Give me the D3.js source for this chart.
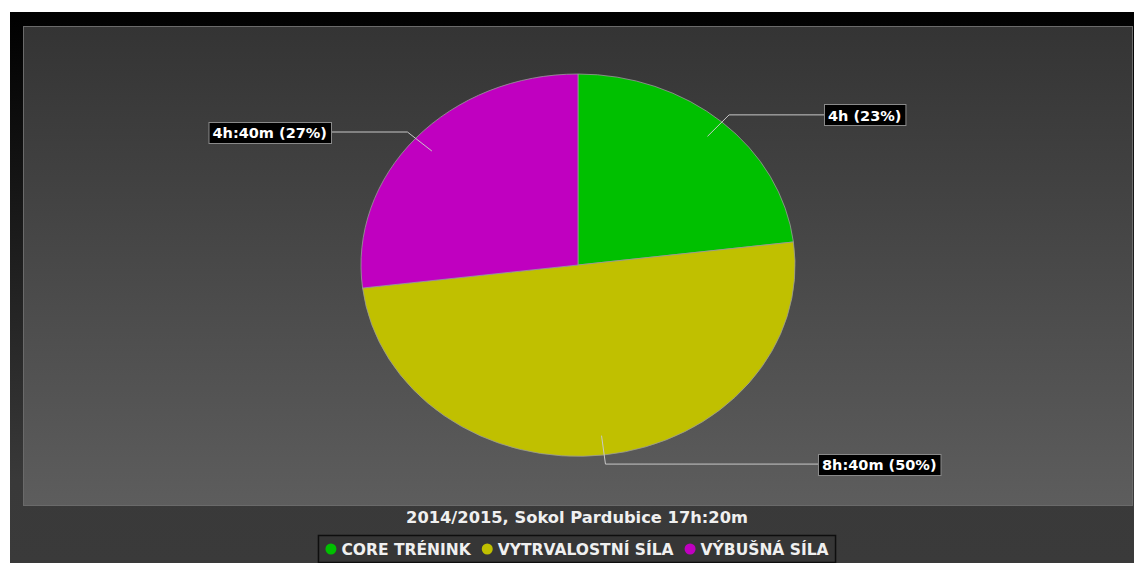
<!DOCTYPE html>
<html>
<head>
<meta charset="utf-8">
<script src="https://cdn.jsdelivr.net/npm/d3@7/dist/d3.min.js"></script>
<style>
  html, body { margin: 0; padding: 0; background: #ffffff; }
  svg { display: block; }
  text { font-family: "DejaVu Sans", Verdana, sans-serif; }
</style>
</head>
<body>
<svg id="chart" width="1134" height="563"></svg>
<script>
// Training time per category, in minutes
const categories = ["CORE TRÉNINK", "VYTRVALOSTNÍ SÍLA", "VÝBUŠNÁ SÍLA"];
const minutes = [240, 520, 280];
const sliceLabels = ["4h (23%)", "8h:40m (50%)", "4h:40m (27%)"];
const colors = ["#00c000", "#c0c000", "#c000c0"];
const title = "2014/2015, Sokol Pardubice 17h:20m";

const W = 1134, H = 563;
const svg = d3.select("#chart");
const defs = svg.append("defs");

// Outer panel gradient
const gOuter = defs.append("linearGradient").attr("id", "outerGrad")
  .attr("x1", 0).attr("y1", 0).attr("x2", 0).attr("y2", 1);
gOuter.append("stop").attr("offset", 0).attr("stop-color", "#000000");
gOuter.append("stop").attr("offset", 0.85).attr("stop-color", "#393939");
gOuter.append("stop").attr("offset", 1).attr("stop-color", "#3a3a3a");

// Plot area gradient
const gPlot = defs.append("linearGradient").attr("id", "plotGrad")
  .attr("x1", 0).attr("y1", 0).attr("x2", 0).attr("y2", 1);
gPlot.append("stop").attr("offset", 0).attr("stop-color", "#343434");
gPlot.append("stop").attr("offset", 1).attr("stop-color", "#5d5d5d");

svg.append("rect").attr("x", 10).attr("y", 12).attr("width", W - 10).attr("height", H - 12)
  .attr("fill", "url(#outerGrad)");

const plot = { x: 23, y: 26, w: 1109, h: 479 };
svg.append("rect")
  .attr("x", plot.x + 0.5).attr("y", plot.y + 0.5)
  .attr("width", plot.w).attr("height", plot.h)
  .attr("fill", "url(#plotGrad)")
  .attr("stroke", "#6a6a6a").attr("stroke-width", 1);

// Elliptical pie
const cx = 578, cy = 265, rx = 217, ry = 191;
const pie = d3.pie().sort(null).startAngle(0).endAngle(2 * Math.PI);
const arcs = pie(minutes);
const arc = d3.arc().innerRadius(0).outerRadius(ry);

const pieG = svg.append("g")
  .attr("transform", `translate(${cx},${cy}) scale(${rx / ry},1)`);
pieG.selectAll("path.slice")
  .data(arcs)
  .join("path")
  .attr("class", "slice")
  .attr("d", arc)
  .attr("fill", (d, i) => colors[i])
  .attr("stroke", "#9a9a9a")
  .attr("stroke-width", 0.8)
  .attr("vector-effect", "non-scaling-stroke");

// Point on the ellipse at angle a (clockwise from 12 o'clock), radius fraction f
function ellipsePt(a, f) {
  return [cx + rx * f * Math.sin(a), cy - ry * f * Math.cos(a)];
}

// Label column positions: right side boxes start at x, left side boxes end at x
const labelCols = [824, 818, 331];

const labelG = svg.append("g");
arcs.forEach((d, i) => {
  const mid = (d.startAngle + d.endAngle) / 2;
  const p0 = ellipsePt(mid, 0.9);
  const p1 = ellipsePt(mid, 1.05);
  const right = Math.sin(mid) >= 0;
  const t = labelG.append("text")
    .attr("font-size", 14.5)
    .attr("font-weight", "bold")
    .attr("fill", "#ffffff")
    .attr("dominant-baseline", "central")
    .text(sliceLabels[i]);
  const tw = t.node().getComputedTextLength();
  const padX = 4, bh = 21;
  const bw = tw + padX * 2;
  const bx = right ? labelCols[i] : labelCols[i] - bw;
  const endX = right ? bx : bx + bw;
  labelG.insert("polyline", "text")
    .attr("points", [p0, p1, [endX, p1[1]]].map(p => p.join(",")).join(" "))
    .attr("fill", "none")
    .attr("stroke", "#c8c8c8")
    .attr("stroke-width", 1);
  labelG.insert("rect", "text")
    .attr("x", bx + 0.5).attr("y", Math.round(p1[1] - bh / 2) + 0.5)
    .attr("width", bw).attr("height", bh)
    .attr("fill", "#000000")
    .attr("stroke", "#8a8a8a").attr("stroke-width", 1);
  t.attr("x", bx + padX).attr("y", p1[1] + 1);
});

// Title
svg.append("text")
  .attr("x", 577).attr("y", 517)
  .attr("text-anchor", "middle")
  .attr("dominant-baseline", "central")
  .attr("font-size", 16.3)
  .attr("font-weight", 600)
  .attr("fill", "#f0f0f0")
  .text(title);

// Legend
const legend = svg.append("g");
const legendBox = legend.append("rect")
  .attr("fill", "#363636").attr("stroke", "#0e0e0e").attr("stroke-width", 1.5);
const itemsG = legend.append("g");
const itemGap = 11;
let lx = 0;
categories.forEach((c, i) => {
  itemsG.append("circle")
    .attr("cx", lx + 5.5).attr("cy", 0).attr("r", 5.5)
    .attr("fill", colors[i]);
  const tt = itemsG.append("text")
    .attr("x", lx + 16).attr("y", 1)
    .attr("dominant-baseline", "central")
    .attr("font-size", 15.5)
    .attr("font-weight", "bold")
    .attr("fill", "#f0f0f0")
    .text(c);
  lx += 16 + tt.node().getComputedTextLength() + itemGap;
});
const legendW = lx - itemGap;
const legendCY = 549;
itemsG.attr("transform", `translate(${577 - legendW / 2},${legendCY})`);
legendBox
  .attr("x", 577 - legendW / 2 - 7).attr("y", 535.5)
  .attr("width", legendW + 14).attr("height", 27);
</script>
</body>
</html>
